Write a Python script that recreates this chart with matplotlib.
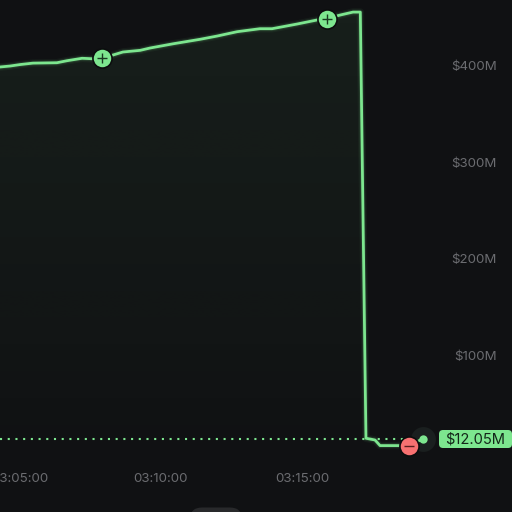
import numpy as np
import matplotlib
matplotlib.use('Agg')
import matplotlib.pyplot as plt
from matplotlib.patches import FancyBboxPatch

# minutes after 03:00, value in $M
times = [4.29, 4.65, 5.0, 5.46, 6.31, 6.67, 7.2, 7.59, 7.91, 8.3, 8.65, 9.26, 9.61,
         10.43, 11.38, 11.99, 12.7, 13.51, 13.94, 14.82, 15.53, 15.89, 16.35, 16.81,
         17.07, 17.27, 17.59, 17.77, 18.48, 18.79, 19.29]
values = [396.7, 397.7, 399.2, 400.7, 401.1, 403.2, 405.7, 405.2, 406.5, 409.1, 412.2,
          413.9, 416.3, 420.7, 425.3, 428.7, 433.2, 436.3, 436.3, 441.1, 445.3, 446.8,
          450.4, 453.5, 453.5, 12.6, 10.8, 5.0, 5.0, 5.0, 12.05]
last_value = 12.05
ytick_vals = [100, 200, 300, 400]
ytick_labels = ['$100M', '$200M', '$300M', '$400M']
xtick_vals = [5, 10, 15]
xtick_labels = ['03:05:00', '03:10:00', '03:15:00']
buy_times = [7.91, 15.89]
buy_values = [406.5, 446.8]
sell_times = [18.79]
sell_values = [5.0]

BG = '#101113'
GREEN = '#7de68f'
RED = '#f87171'
GREY = '#6b6c70'

plt.rcParams['font.family'] = ['Inter', 'DejaVu Sans']

fig = plt.figure(figsize=(5.12, 5.12), dpi=100, facecolor=BG)
ax = fig.add_axes([0, 0, 1, 1])
ax.set_facecolor(BG)
ax.set_xlim(4.29, 22.45)
ax.set_ylim(-63.7, 466)
ax.axis('off')

# gradient under the line
fill = ax.fill_between(times, values, -63.7, color='none')
grad = np.linspace(0, 1, 256)
rgba = np.zeros((256, 1, 4))
rgba[:, :, :3] = matplotlib.colors.to_rgb(GREEN)
rgba[:, 0, 3] = 0.07 * (1 - grad)
im = ax.imshow(rgba, extent=[4.29, 22.45, -30, 466], origin='upper', aspect='auto', zorder=1)
im.set_clip_path(fill.get_paths()[0], transform=ax.transData)

# dotted last price line
ax.plot([4.29, 18.6], [last_value, last_value], color=GREEN, lw=1.5, dashes=(1, 2.7), zorder=2)

# line with glow
for lw, a in [(5.5, 0.05), (3.6, 0.12)]:
    ax.plot(times, values, color=GREEN, lw=lw, alpha=a, zorder=3, solid_joinstyle='round')
ax.plot(times, values, color=GREEN, lw=2.0, zorder=4, solid_joinstyle='round')

# current point
ax.scatter(times[-1], last_value, s=320, color='#1a1f1f', zorder=3, linewidths=0)
ax.scatter(times[-1], last_value, s=36, color=GREEN, zorder=5, linewidths=0)

# trade markers
ax.scatter(buy_times, buy_values, s=190, color=GREEN, edgecolors='#0c0d0e', linewidths=1.2, zorder=6)
ax.scatter(buy_times, buy_values, s=60, marker='+', color='#1a3a22', linewidths=1.0, zorder=7)
ax.scatter(sell_times, sell_values, s=190, color=RED, edgecolors='#0c0d0e', linewidths=1.2, zorder=6)
ax.scatter(sell_times, sell_values, s=60, marker='_', color='#5a1f1f', linewidths=1.0, zorder=7)

# axis labels
for v, lab in zip(ytick_vals, ytick_labels):
    ax.annotate(lab, (0, v), xycoords=('axes fraction', 'data'), xytext=(497 * 0.72, -2.2),
                textcoords='offset points', ha='right', va='center', color=GREY, fontsize=9.6, zorder=2)
for t, lab in zip(xtick_vals, xtick_labels):
    ax.annotate(lab, (t, 0), xycoords=('data', 'axes fraction'), xytext=(0, 33.5 * 0.72),
                textcoords='offset points', ha='center', va='center', color=GREY, fontsize=9.6)

# $0 sits almost fully behind the price tag
ax.text(475 / 512, 1 - 443.5 / 512, '$0', transform=ax.transAxes, ha='center', va='center',
        color=GREY, fontsize=9.6, zorder=2)

# price tag
tag = FancyBboxPatch((439, 512 - 448), 73, 18, boxstyle='round,pad=0,rounding_size=4',
                     transform=None, fc=GREEN, ec='none', zorder=8)
ax.add_artist(tag)
ax.text(475.5 / 512, 1 - 439.5 / 512, '$%.2fM' % last_value, transform=ax.transAxes,
        ha='center', va='center', color='#14271a', fontsize=10.6, zorder=9)

# bit of the bottom handle
handle = FancyBboxPatch((190, -20), 52, 24.5, boxstyle='round,pad=0,rounding_size=12',
                        transform=None, fc='#28292b', ec='none', zorder=8)
ax.add_artist(handle)

fig.savefig('out.png', dpi=100, facecolor=BG)
